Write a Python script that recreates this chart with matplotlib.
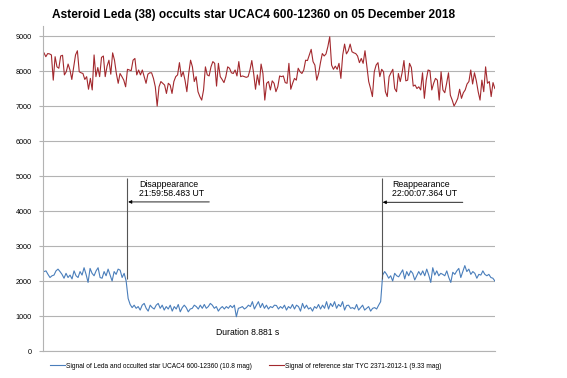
import numpy as np
import matplotlib
matplotlib.use('Agg')
import matplotlib.pyplot as plt

plt.rcParams['font.family'] = ['Liberation Sans', 'DejaVu Sans']

# Leda + target star signal, one value per frame
leda_pre = [2270, 2290, 2190, 2100, 2150, 2170, 2290, 2340, 2270, 2190,
            2080, 2220, 2100, 2170, 2060, 2290, 2150, 2100, 2270, 2170,
            2380, 2190, 1960, 2360, 2220, 2150, 2290, 2380, 2100, 2080,
            2270, 2150, 2340, 2170, 2000, 2270, 2190, 2340, 2310, 2100,
            2220, 2000]
leda_occ = [1500, 1330, 1240, 1310, 1220, 1270, 1170, 1310, 1360, 1220,
            1140, 1310, 1240, 1200, 1310, 1360, 1220, 1310, 1170, 1270,
            1200, 1310, 1140, 1270, 1200, 1330, 1120, 1240, 1310, 1240,
            1120, 1200, 1220,
            1310, 1270, 1200, 1310, 1220, 1330, 1220, 1270, 1360, 1310,
            1220, 1270, 1140, 1220, 1270, 1200, 1270, 1220, 1300, 1240,
            1310, 980, 1220, 1240, 1270, 1200, 1240, 1310, 1270, 1410,
            1200, 1310, 1410, 1240, 1360, 1220, 1310, 1200, 1270, 1240,
            1310, 1300, 1200, 1270, 1220, 1310, 1170, 1270, 1220, 1330,
            1200, 1310, 1270, 1140, 1360, 1220, 1310, 1200, 1240, 1140,
            1270, 1220, 1330, 1200, 1310, 1220, 1410, 1200, 1360, 1270,
            1410, 1220, 1330, 1270, 1410, 1170,
            1300, 1310, 1220, 1240, 1200, 1330, 1170, 1240, 1310, 1170,
            1220, 1270, 1140, 1220, 1240, 1200, 1310, 1410]
leda_post = [2170, 2270, 2190, 2080, 2150, 2000, 2220, 2150, 2120, 2220,
             2320, 2060, 2270, 2150, 2290, 2220, 2030, 2150, 2270, 2170,
             2290, 2150, 2340, 2170, 1960, 2380, 2170, 2290, 2150, 2220,
             2190, 2150, 2290, 2100, 1960, 2250, 2190, 2290, 2360, 2100,
             2270, 2440, 2270, 2340, 2190, 2270, 2220, 2080, 2190, 2170,
             2290, 2190, 2150, 2190, 2100, 2080, 2000]
leda = leda_pre + leda_occ + leda_post

# Reference star signal
ref = [8520, 8410, 8500, 8490, 8460, 7740, 8410, 8120, 8080, 8430,
       8450, 7890, 7980, 8200, 8030, 7760, 8120, 8460, 8580, 7980,
       7950, 7930, 7760, 7840, 7480, 7790, 7460, 8460, 7840, 8100,
       7840, 8390, 8430, 7840, 8140, 8310, 7910, 8520, 8310, 7930,
       7650, 7930, 7840, 7740, 7550, 8050, 8030, 8010, 8310, 8360,
       7890, 8030, 7890, 8030, 7840, 7650, 7910, 7950, 7950, 7790,
       7550, 7000, 7550, 7700, 7650, 7600, 7360, 7650, 7600, 7360,
       7700, 7840, 7890, 8240, 7840, 7980, 7740, 7410, 7930, 8310,
       8120, 7700, 7840, 7410,
       7270, 7170, 7460, 8120, 7890, 7860, 8120, 8270, 8220, 7570,
       8220, 7840, 7760, 7670, 7840, 8120, 8080, 7950, 7930, 8030,
       7860, 8270, 7840, 7860, 7840, 7820, 7840, 8030, 8300, 7930,
       7480, 7890, 7600, 8200, 7930, 7170, 7650, 7700, 7460, 7720,
       7650, 7410, 7550, 7860, 7840, 7860, 7670, 7650, 8220, 7480,
       7650, 7790, 7740, 8080, 7980, 7930, 8030, 8310, 8300, 8460,
       8620, 8270, 8170, 7740, 7930, 8240, 8500, 8430, 8490, 8700,
       8980, 8170, 8050, 8140, 8050, 8220, 7790,
       8460, 8770, 8490, 8580, 8770, 8550, 8520, 8500, 8430, 8240,
       8360, 8220, 8580, 8140, 7700, 7500, 7270, 7980, 8170, 8240,
       7840, 8050, 7980, 7410, 7270, 7840, 7950, 8050, 7500, 7410,
       7930, 7700, 7950, 8300, 7720, 7740, 8220, 8100, 7570, 7600,
       7500, 7550, 7460, 7950, 7220, 7740, 8030, 8010, 7460, 7650,
       7790, 7740, 7170, 7980, 7460, 7380, 7650, 7950, 7310, 7170,
       7000, 7100, 7220, 7480, 7220, 7380, 7460, 7630, 7700, 8030,
       7630, 7950, 7720, 7410, 7170, 7740, 7410, 8120, 7650, 7700,
       7270, 7670, 7500]

disappear_frame = 41.5
reappear_frame = 168.5
disappear_label = 'Disappearance\n21:59:58.483 UT'
reappear_label = 'Reappearance\n22:00:07.364 UT'
duration_label = 'Duration 8.881 s'

title = 'Asteroid Leda (38) occults star UCAC4 600-12360 on 05 December 2018'
leda_name = 'Signal of Leda and occulted star UCAC4 600-12360 (10.8 mag)'
ref_name = 'Signal of reference star TYC 2371-2012-1 (9.33 mag)'

n_last = len(leda) - 1
x_leda = np.arange(len(leda))
x_ref = np.linspace(0, n_last, len(ref))

fig = plt.figure(figsize=(5.67, 3.78), dpi=100)
ax = fig.add_axes([0.0758, 0.0714, 0.797, 0.861])

grid_c = '#b3b3b3'
ax.set_ylim(0, 9300)
ax.set_xlim(-0.5, n_last)
ax.set_yticks(range(0, 9001, 1000))
ax.yaxis.grid(True, color=grid_c, lw=0.8)
ax.set_axisbelow(True)
ax.set_xticks([])
ax.tick_params(axis='y', length=3, width=0.8, color=grid_c, pad=5, labelsize=5.2)
for s in ['top', 'right']:
    ax.spines[s].set_visible(False)
for s in ['left', 'bottom']:
    ax.spines[s].set_color(grid_c)
    ax.spines[s].set_linewidth(0.8)

l1, = ax.plot(x_leda, leda, color='#4a7ebb', lw=0.8, label=leda_name)
l2, = ax.plot(x_ref, ref, color='#a3292e', lw=0.8, label=ref_name)

# event markers
ax.vlines([disappear_frame, reappear_frame], 2050, 4950, color='#555555', lw=0.8)
arrow = dict(arrowstyle='-|>', color='black', lw=0.6, mutation_scale=5,
             shrinkA=0, shrinkB=0)
ax.annotate('', xy=(disappear_frame + 0.5, 4260), xytext=(82.5, 4260),
            arrowprops=arrow)
ax.annotate('', xy=(reappear_frame + 0.5, 4250), xytext=(209, 4250),
            arrowprops=arrow)
ax.text(47.5, 4900, disappear_label, fontsize=6.3, va='top', ha='left',
        linespacing=1.0)
ax.text(173.8, 4900, reappear_label, fontsize=6.3, va='top', ha='left',
        linespacing=1.0)
ax.text(86, 520, duration_label, fontsize=6.2, va='center', ha='left')

fig.text(0.447, 0.959, title, fontsize=8.6, fontweight='bold', ha='center',
         va='center')

ax.legend(handles=[l1, l2], loc='center left', ncol=2, frameon=False,
          bbox_to_anchor=(50 / 567, 12 / 378), bbox_transform=fig.transFigure,
          fontsize=4.75, handlelength=2.3, handletextpad=0.1,
          columnspacing=2.6, borderpad=0, borderaxespad=0)

fig.savefig('out.png', dpi=100)
